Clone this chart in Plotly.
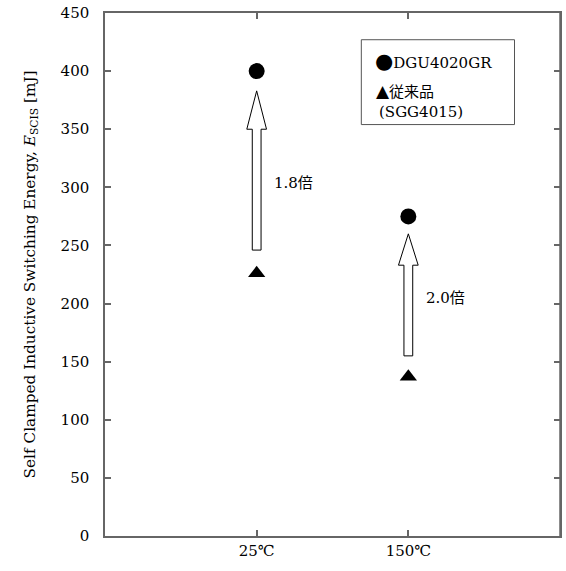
import plotly.graph_objects as go

# ---- data ----
categories = ["25℃", "150℃"]
cat_pos = [1, 2]
dgu_values = [400, 275]          # DGU4020GR (circles)
conv_values = [226, 137]         # 従来品 SGG4015 (triangles)
arrow_base = [246, 155]
arrow_tip = [383, 260]
arrow_head_len = [33, 27]
ratio_labels = ["1.8倍", "2.0倍"]
ratio_label_y = [304, 205]
y_ticks = [0, 50, 100, 150, 200, 250, 300, 350, 400, 450]

FONT = "DejaVu Serif, Noto Sans CJK JP"
AX = "#666666"

fig = go.Figure()
fig.add_trace(go.Scatter(x=cat_pos, y=dgu_values, mode="markers",
                         marker=dict(symbol="circle", size=16, color="black"),
                         showlegend=False, hoverinfo="skip"))
fig.add_trace(go.Scatter(x=cat_pos, y=conv_values, mode="markers",
                         marker=dict(symbol="triangle-up", size=15, color="black"),
                         showlegend=False, hoverinfo="skip"))

shaft_hw = 0.029
head_hw = 0.065
for xc, b, t, hl in zip(cat_pos, arrow_base, arrow_tip, arrow_head_len):
    hb = t - hl
    path = (f"M {xc-shaft_hw},{b} L {xc+shaft_hw},{b} L {xc+shaft_hw},{hb} "
            f"L {xc+head_hw},{hb} L {xc},{t} L {xc-head_hw},{hb} L {xc-shaft_hw},{hb} Z")
    fig.add_shape(type="path", path=path, xref="x", yref="y",
                  line=dict(color="black", width=1), fillcolor="white")

for xc, lab, ly in zip(cat_pos, ratio_labels, ratio_label_y):
    fig.add_annotation(x=xc + 0.1, y=ly, text=lab, showarrow=False,
                       xanchor="left", yanchor="middle",
                       font=dict(family=FONT, size=15, color="black"))

# legend box
fig.add_shape(type="rect", xref="x", yref="y", x0=1.69, x1=2.70, y0=354, y1=427,
              line=dict(color="#555555", width=1), fillcolor="white", layer="below")
legend_lines = [("<span style='font-size:21px'>●</span>DGU4020GR", 1.768, 409),
                ("<span style='font-size:17px'>▲</span>従来品", 1.775, 382.5),
                ("(SGG4015)", 1.795, 365)]
for txt, lx, ly in legend_lines:
    fig.add_annotation(x=lx, y=ly, text=txt, showarrow=False, xanchor="left",
                       yanchor="middle", font=dict(family=FONT, size=15, color="black"))

fig.update_layout(
    width=566, height=571,
    margin=dict(l=105, r=4, t=13, b=35),
    paper_bgcolor="white", plot_bgcolor="white",
    font=dict(family=FONT, size=15, color="black"),
    xaxis=dict(range=[0, 3], tickvals=cat_pos, ticktext=categories,
               showgrid=False, zeroline=False, showline=True, linecolor=AX,
               linewidth=1.5, mirror="ticks", ticks="inside", ticklen=6,
               tickcolor=AX, tickwidth=1.5),
    yaxis=dict(range=[0, 450], tickvals=y_ticks, showgrid=False, zeroline=False,
               showline=True, linecolor=AX, linewidth=1.5, mirror="ticks",
               ticks="inside", ticklen=6, tickcolor=AX, tickwidth=1.5,
               ticklabelstandoff=11,
               title=dict(text="Self Clamped Inductive Switching Energy, <i>E</i><sub>SCIS</sub> [mJ]",
                          font=dict(family=FONT, size=15.3), standoff=21)),
)

# explicit right frame edge to make sure the box is closed
fig.add_shape(type="line", xref="paper", yref="paper", x0=1, x1=1, y0=0, y1=1,
              line=dict(color=AX, width=1.5))

fig.write_html("out.html", config={"displayModeBar": False},
               post_script="document.body.style.margin='0';document.body.style.overflow='hidden';")
